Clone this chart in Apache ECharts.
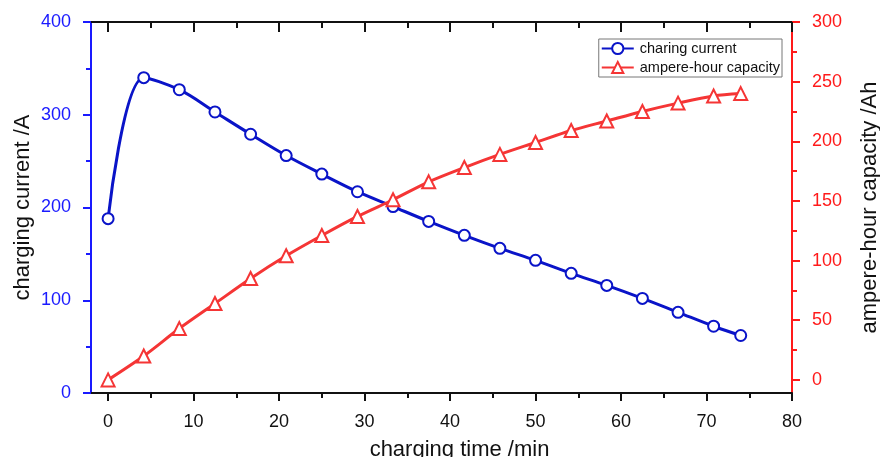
<!DOCTYPE html>
<html>
<head>
<meta charset="utf-8">
<script src="https://cdn.jsdelivr.net/npm/echarts@6/dist/echarts.min.js"></script>
<style>
  html, body { margin: 0; padding: 0; background: #fff; }
  #chart { width: 880px; height: 457px; }
</style>
</head>
<body>
<div id="chart"></div>
<script>
(() => {
  // charging time, min
  const timeMin = [0, 4.17, 8.33, 12.5, 16.67, 20.83, 25, 29.17, 33.33, 37.5,
    41.67, 45.83, 50, 54.17, 58.33, 62.5, 66.67, 70.83, 74];
  // charging current, A
  const currentA = [188, 340, 327, 303, 279, 256, 236, 217, 201, 185,
    170, 156, 143, 129, 116, 102, 87, 72, 62];
  // ampere-hour capacity, Ah
  const capacityAh = [0, 20, 43, 64, 85, 104, 121, 137, 151, 166,
    178, 189, 199, 209, 217, 225, 232, 238, 240];

  const xMajor = [0, 10, 20, 30, 40, 50, 60, 70, 80];
  const xMinor = [5, 15, 25, 35, 45, 55, 65, 75];
  const rightMajor = [0, 50, 100, 150, 200, 250, 300];
  const rightMinor = [25, 75, 125, 175, 225, 275];

  const font = 'Liberation Sans';
  const blueAxis = '#1a1aff';
  const redAxis = '#ff1a1a';

  const chart = echarts.init(document.getElementById('chart'));

  const pairs = (xs, ys) => xs.map((x, i) => [x, ys[i]]);

  const xBase = {
    type: 'value',
    min: -2,
    max: 80,
    splitLine: { show: false }
  };

  const option = {
    animation: false,
    backgroundColor: '#fff',
    grid: { left: 91, right: 88, top: 22, bottom: 64, containLabel: false, outerBoundsMode: 'none' },
    legend: {
      orient: 'vertical',
      right: 98,
      top: 39,
      padding: [2, 2, 2, 2],
      itemGap: 4,
      itemWidth: 32,
      itemHeight: 14,
      borderColor: '#777',
      borderWidth: 1,
      textStyle: { fontFamily: font, fontSize: 14.5, color: '#111', padding: [0, 0, 0, 1] },
      data: ['charing current', 'ampere-hour capacity']
    },
    xAxis: [
      Object.assign({}, xBase, {
        position: 'bottom',
        name: 'charging time /min',
        nameLocation: 'middle',
        nameGap: 46,
        nameMoveOverlap: false,
        nameTextStyle: { fontFamily: font, fontSize: 22, color: '#111', padding: [0, 0, 0, 36] },
        axisLine: { onZero: false, lineStyle: { color: '#111', width: 2 } },
        axisTick: { inside: false, length: 8, customValues: xMajor, lineStyle: { color: '#111', width: 2 } },
        axisLabel: { customValues: xMajor, margin: 20, fontFamily: font, fontSize: 18, color: '#111' }
      }),
      Object.assign({}, xBase, {
        position: 'bottom',
        axisLine: { show: false, onZero: false },
        axisTick: { inside: false, length: 5, customValues: xMinor, lineStyle: { color: '#111', width: 2 } },
        axisLabel: { show: false }
      }),
      Object.assign({}, xBase, {
        position: 'top',
        axisLine: { onZero: false, lineStyle: { color: '#111', width: 2 } },
        axisTick: { inside: true, length: 10, customValues: xMajor, lineStyle: { color: '#111', width: 2 } },
        axisLabel: { show: false }
      }),
      Object.assign({}, xBase, {
        position: 'top',
        axisLine: { show: false, onZero: false },
        axisTick: { inside: true, length: 6, customValues: xMinor, lineStyle: { color: '#111', width: 2 } },
        axisLabel: { show: false }
      })
    ],
    yAxis: [
      {
        type: 'value',
        position: 'left',
        min: 0,
        max: 400,
        interval: 100,
        name: 'charging current /A',
        nameLocation: 'middle',
        nameRotate: 90,
        nameGap: 57,
        nameMoveOverlap: false,
        nameTextStyle: { fontFamily: font, fontSize: 22, color: '#111' },
        splitLine: { show: false },
        axisLine: { onZero: false, lineStyle: { color: blueAxis, width: 2 } },
        axisTick: { inside: false, length: 8, lineStyle: { color: blueAxis, width: 2 } },
        minorTick: { show: true, splitNumber: 2, length: 5, lineStyle: { color: blueAxis, width: 2 } },
        axisLabel: { margin: 20, fontFamily: font, fontSize: 18, color: blueAxis }
      },
      {
        type: 'value',
        position: 'right',
        min: -11,
        max: 300,
        name: 'ampere-hour capacity /Ah',
        nameLocation: 'middle',
        nameRotate: 90,
        nameGap: 67,
        nameMoveOverlap: false,
        nameTextStyle: { fontFamily: font, fontSize: 22, color: '#111' },
        splitLine: { show: false },
        axisLine: { onZero: false, lineStyle: { color: redAxis, width: 2 } },
        axisTick: { inside: false, length: 8, customValues: rightMajor, lineStyle: { color: redAxis, width: 2 } },
        axisLabel: { customValues: rightMajor, margin: 20, fontFamily: font, fontSize: 18, color: redAxis }
      },
      {
        type: 'value',
        position: 'right',
        min: -11,
        max: 300,
        splitLine: { show: false },
        axisLine: { show: false, onZero: false },
        axisTick: { inside: false, length: 5, customValues: rightMinor, lineStyle: { color: redAxis, width: 2 } },
        axisLabel: { show: false }
      }
    ],
    series: [
      {
        name: 'charing current',
        type: 'line',
        xAxisIndex: 0,
        yAxisIndex: 0,
        data: pairs(timeMin, currentA),
        smooth: 0.35,
        symbol: 'circle',
        symbolSize: 11,
        showAllSymbol: true,
        lineStyle: { color: '#0a14c8', width: 3 },
        itemStyle: { color: '#fff', borderColor: '#0a14c8', borderWidth: 2 },
        z: 3
      },
      {
        name: 'ampere-hour capacity',
        type: 'line',
        xAxisIndex: 0,
        yAxisIndex: 1,
        data: pairs(timeMin, capacityAh),
        smooth: 0.3,
        symbol: 'triangle',
        symbolSize: 13,
        showAllSymbol: true,
        lineStyle: { color: '#f53535', width: 3 },
        itemStyle: { color: '#fff', borderColor: '#f53535', borderWidth: 2 },
        z: 4
      }
    ]
  };

  chart.setOption(option);
})();
</script>
</body>
</html>
